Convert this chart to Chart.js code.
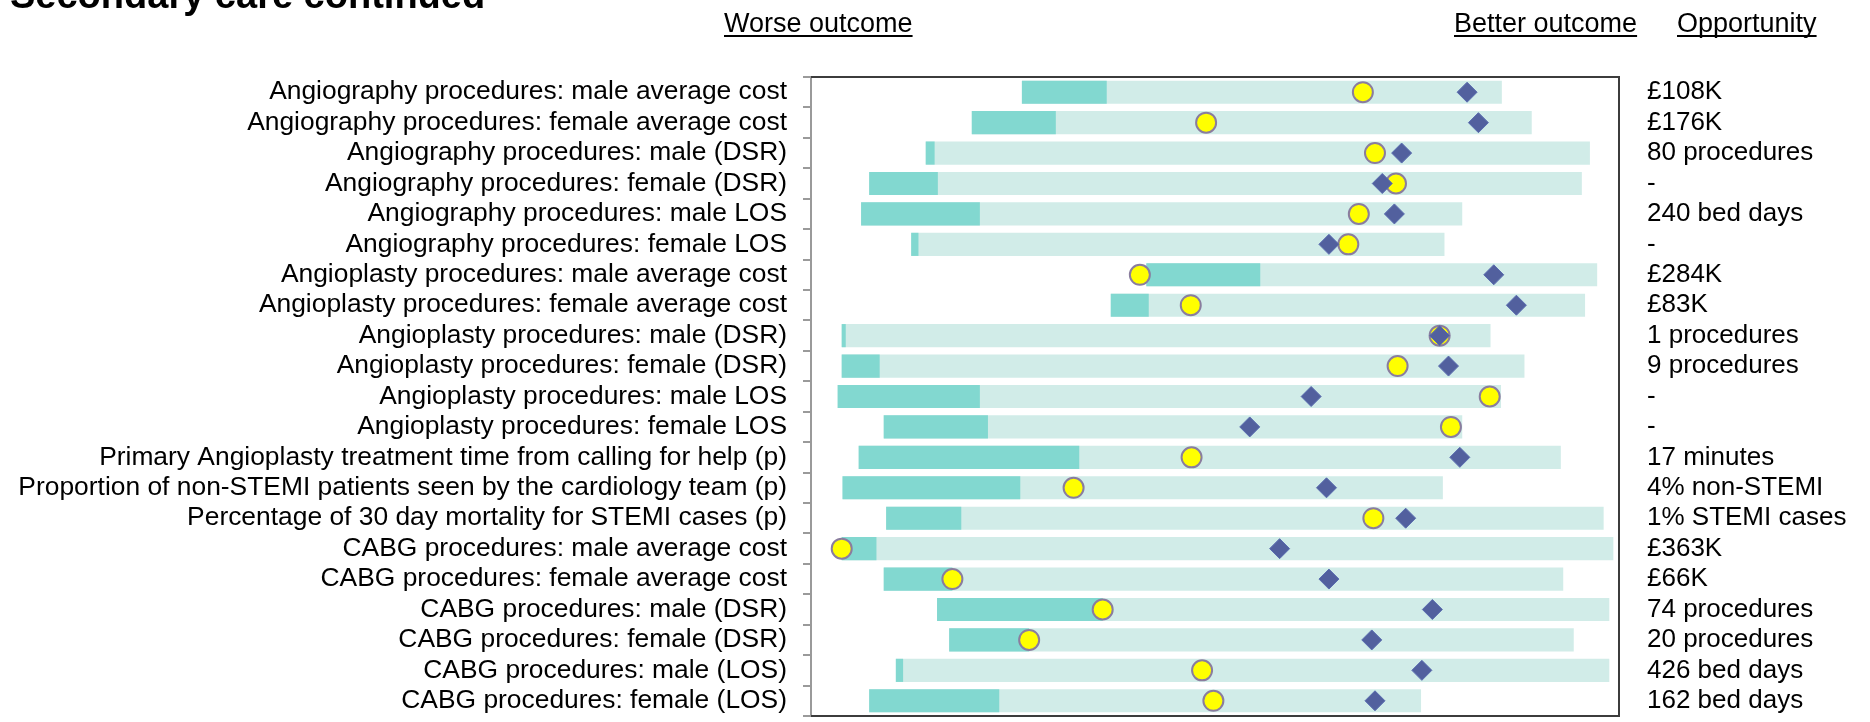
<!DOCTYPE html>
<html>
<head>
<meta charset="utf-8">
<title>Secondary care continued</title>
<script src="https://cdn.jsdelivr.net/npm/chart.js@4.4.1/dist/chart.umd.min.js"></script>
<style>
  html, body { margin: 0; padding: 0; background: #fff; }
  #chart { display: block; }
</style>
</head>
<body>
<canvas id="chart" width="1870" height="722"></canvas>
<script>
// indicators, top to bottom
const categories = [
  'Angiography procedures: male average cost',
  'Angiography procedures: female average cost',
  'Angiography procedures: male (DSR)',
  'Angiography procedures: female (DSR)',
  'Angiography procedures: male LOS',
  'Angiography procedures: female LOS',
  'Angioplasty procedures: male average cost',
  'Angioplasty procedures: female average cost',
  'Angioplasty procedures: male (DSR)',
  'Angioplasty procedures: female (DSR)',
  'Angioplasty procedures: male LOS',
  'Angioplasty procedures: female LOS',
  'Primary Angioplasty treatment time from calling for help (p)',
  'Proportion of non-STEMI patients seen by the cardiology team (p)',
  'Percentage of 30 day mortality for STEMI cases (p)',
  'CABG procedures: male average cost',
  'CABG procedures: female average cost',
  'CABG procedures: male (DSR)',
  'CABG procedures: female (DSR)',
  'CABG procedures: male (LOS)',
  'CABG procedures: female (LOS)'
];
const opportunity = [
  '£108K', '£176K', '80 procedures', '-', '240 bed days', '-',
  '£284K', '£83K', '1 procedures', '9 procedures', '-', '-',
  '17 minutes', '4% non-STEMI', '1% STEMI cases',
  '£363K', '£66K', '74 procedures', '20 procedures', '426 bed days', '162 bed days'
];
const headers = ['Worse outcome', 'Better outcome', 'Opportunity'];
const title = 'Secondary care continued';

// position along the worse -> better range (0..100)
const rangeStart = [26.1, 19.9, 14.2, 7.2, 6.2, 12.4, 41.5, 37.1, 3.8, 3.8, 3.3, 9.0, 5.9, 3.9, 9.3, 3.8, 9.0, 15.6, 17.1, 10.5, 7.2];
const worstEnd   = [36.6, 30.3, 15.3, 15.7, 20.9, 13.3, 55.6, 41.8, 4.3, 8.5, 20.9, 21.9, 33.2, 25.9, 18.6, 8.1, 17.5, 36.1, 27.0, 11.4, 23.3];
const rangeEnd   = [85.5, 89.2, 96.4, 95.4, 80.6, 78.4, 97.3, 95.8, 84.1, 88.3, 85.4, 80.6, 92.8, 78.2, 98.1, 99.3, 93.1, 98.8, 94.4, 98.8, 75.5];
const localValue = [68.3, 48.9, 69.8, 72.4, 67.8, 66.5, 40.7, 47.0, 77.8, 72.6, 84.0, 79.2, 47.1, 32.5, 69.6, 3.8, 17.5, 36.1, 27.0, 48.4, 49.8];
const benchmark  = [81.2, 82.6, 73.1, 70.7, 72.2, 64.1, 84.5, 87.3, 77.8, 78.9, 61.9, 54.3, 80.3, 63.8, 73.6, 58.0, 64.1, 76.9, 69.4, 75.6, 69.8];

const FONT = '"Liberation Sans", Arial, sans-serif';

// keep the plot box fixed: axis widths set by hand, no extra label padding
function fixWidth(w) {
  return s => {
    s.width = w;
    s.paddingTop = 0;
    s.paddingBottom = 0;
  };
}

const frame = {
  id: 'frame',
  afterDatasetsDraw(chart) {
    const { ctx, chartArea: a } = chart;
    ctx.save();
    ctx.strokeStyle = '#3c3c3c';
    ctx.lineWidth = 2;
    ctx.beginPath();
    ctx.moveTo(a.left, a.top);
    ctx.lineTo(a.right, a.top);
    ctx.lineTo(a.right, a.bottom);
    ctx.lineTo(a.left, a.bottom);
    ctx.stroke();
    ctx.restore();
  },
  afterDraw(chart) {
    const ctx = chart.ctx;
    ctx.save();
    ctx.fillStyle = '#000';
    ctx.textBaseline = 'alphabetic';
    ctx.font = 'bold 38px ' + FONT;
    ctx.fillText(title, 10, 8);
    ctx.font = '27px ' + FONT;
    const xs = [724, 1454, 1677];
    headers.forEach((t, i) => {
      ctx.fillText(t, xs[i], 32);
      ctx.fillRect(xs[i], 35, ctx.measureText(t).width, 2);
    });
    ctx.restore();
  }
};

new Chart(document.getElementById('chart'), {
  type: 'bar',
  data: {
    labels: categories,
    datasets: [
      {
        type: 'line', label: 'Benchmark', data: benchmark, indexAxis: 'y',
        showLine: false, pointStyle: 'rectRot', pointRadius: 10,
        pointBackgroundColor: '#52609e', pointBorderColor: '#5a6db0', pointBorderWidth: 1,
        order: 0
      },
      {
        type: 'line', label: 'Local', data: localValue, indexAxis: 'y',
        showLine: false, pointStyle: 'circle', pointRadius: 10,
        pointBackgroundColor: '#ffff00', pointBorderColor: '#8a7d9e', pointBorderWidth: 2,
        order: 1
      },
      {
        label: 'Worst quartile', data: rangeStart.map((s, i) => [s, worstEnd[i]]),
        backgroundColor: '#82d8d0', grouped: false, barPercentage: 0.76, categoryPercentage: 1,
        order: 2
      },
      {
        label: 'Range', data: rangeStart.map((s, i) => [s, rangeEnd[i]]),
        backgroundColor: '#d1ece8', grouped: false, barPercentage: 0.76, categoryPercentage: 1,
        order: 3
      }
    ]
  },
  options: {
    indexAxis: 'y',
    responsive: false,
    animation: false,
    layout: { autoPadding: false, padding: { top: 77, bottom: 6, left: 0, right: 0 } },
    plugins: { legend: { display: false }, tooltip: { enabled: false } },
    scales: {
      x: { type: 'linear', min: 0, max: 100, display: false },
      y: {
        type: 'category',
        offset: true,
        afterFit: fixWidth(811),
        grid: { offset: true, drawOnChartArea: false, drawTicks: true, tickLength: 8, color: '#9a9a9a', lineWidth: 2 },
        border: { display: true, color: '#9a9a9a', width: 2 },
        ticks: { autoSkip: false, padding: 16, color: '#000', font: { family: FONT, size: 26.4 } }
      },
      y2: {
        type: 'category',
        labels: opportunity,
        position: 'right',
        offset: true,
        afterFit: fixWidth(251),
        grid: { display: false, drawTicks: false },
        border: { display: false },
        ticks: { autoSkip: false, padding: 28, color: '#000', font: { family: FONT, size: 26 } }
      }
    }
  },
  plugins: [frame]
});
</script>
</body>
</html>
